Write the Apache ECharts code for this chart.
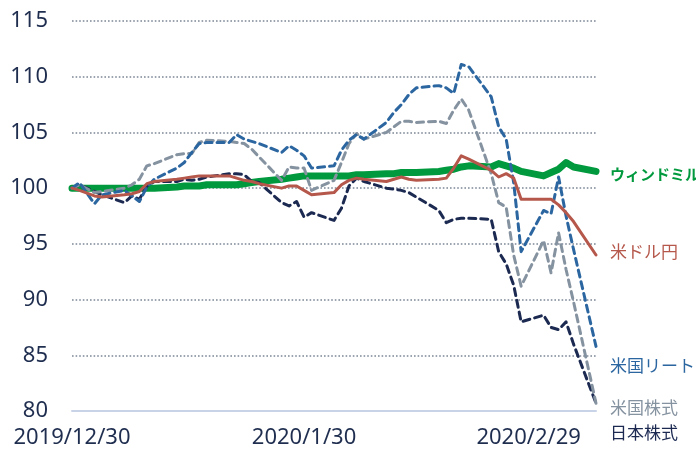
<!DOCTYPE html>
<html>
<head>
<meta charset="utf-8">
<script src="https://cdn.jsdelivr.net/npm/echarts@6/dist/echarts.min.js"></script>
<style>
  html, body { margin: 0; padding: 0; background: #fff; }
  #chart { width: 696px; height: 449px; }
</style>
</head>
<body>
<div id="chart"></div>
<script>
// business days 2019/12/30 - 2020/3/9
const dates = [
  '2019-12-30', '2019-12-31',
  '2020-01-02', '2020-01-03', '2020-01-06', '2020-01-07', '2020-01-08', '2020-01-09', '2020-01-10',
  '2020-01-13', '2020-01-14', '2020-01-15', '2020-01-16', '2020-01-17', '2020-01-20', '2020-01-21',
  '2020-01-22', '2020-01-23', '2020-01-24', '2020-01-27', '2020-01-28', '2020-01-29', '2020-01-30',
  '2020-01-31',
  '2020-02-03', '2020-02-04', '2020-02-05', '2020-02-06', '2020-02-07', '2020-02-10', '2020-02-11',
  '2020-02-12', '2020-02-13', '2020-02-14', '2020-02-17', '2020-02-18', '2020-02-19', '2020-02-20',
  '2020-02-21', '2020-02-24', '2020-02-25', '2020-02-26', '2020-02-27', '2020-02-28',
  '2020-03-02', '2020-03-03', '2020-03-04', '2020-03-05', '2020-03-06', '2020-03-09'
];

const windmill = [
  100, 100, 100, 100, 100, 100, 100, 100, 100, 100.1,
  100.2, 100.2, 100.2, 100.3, 100.3, 100.3, 100.4, 100.5, 100.6, 100.8,
  100.9, 101, 101.1, 101.1,
  101.1, 101.1, 101.1, 101.2, 101.2, 101.3, 101.3, 101.4, 101.4, 101.4,
  101.5, 101.6, 101.7, 101.9, 102, 101.9, 102.2, 102, 101.8, 101.5,
  101.1, 101.4, 101.7, 102.3, 101.9, 101.5
];
const usdJpy = [
  100, 99.8, 99.3, 99.2, 99.4, 99.5, 99.7, 100.4, 100.6, 100.8,
  100.9, 101, 101.1, 101.1, 101.1, 100.9, 100.7, 100.6, 100.4, 100,
  100.2, 100.2, 99.8, 99.4,
  99.6, 100.3, 100.7, 100.9, 100.8, 100.6, 100.8, 101, 100.8, 100.7,
  100.8, 100.9, 101.8, 102.9, 102.6, 101.6, 101, 101.3, 100.9, 99,
  99, 99, 98.5, 97.8, 97, 94
];
const usReit = [
  100, 100.5, 98.6, 99.4, 99.8, 99.3, 98.8, 100.1, 100.8, 101.8,
  102.3, 103.2, 104, 104.1, 104.1, 104.8, 104.4, 104.2, 104, 103.2,
  103.8, 103.4, 102.9, 101.8,
  102, 103.4, 104.3, 104.8, 104.4, 105.9, 106.8, 107.5, 108.4, 109,
  109.2, 109, 108.5, 111.1, 110.9, 108.2, 105.5, 104.4, 100.5, 94.3,
  98, 97.7, 101, 97.5, 94.5, 85.8
];
const usStock = [
  100, 100.3, 99.6, 99.7, 100, 100.3, 100.8, 102, 102.2, 103,
  103.1, 103.1, 104.1, 104.3, 104.2, 104.1, 104, 103.5, 102.8, 100.7,
  101.9, 101.8, 101.8, 99.8,
  100.7, 102.3, 104, 104.9, 104.4, 105, 105.5, 106, 106, 105.9,
  106, 105.8, 107, 108, 107, 101.3, 98.7, 98.3, 94, 91.2,
  95.3, 92.4, 96, 92.7, 89.8, 80.7
];
const jpStock = [
  100, 100.3, 99.7, 99.4, 98.7, 99.3, 99, 100.2, 100.6, 100.6,
  100.8, 100.7, 100.8, 101, 101.3, 101.3, 101.2, 100.6, 100.5, 98.7,
  98.4, 98.8, 97.4, 97.8,
  97.1, 98.2, 100.2, 100.9, 100.6, 100, 99.9, 99.8, 99.6, 99.2,
  98, 96.9, 97.2, 97.3, 97.3, 97.2, 94.3, 93.2, 91.3, 88,
  88.6, 87.5, 87.3, 88, 86, 80.7
];

const xTicks = ['2019-12-30', '2020-01-30', '2020-02-29'];
const xEnd = '2020-03-09';

const textColor = '#1f2d4f';
const fontFamily = '"Noto Sans", "Open Sans", "Noto Sans CJK JP", sans-serif';
const DAY = 86400000;

function toTime(s) {
  const p = s.split('-');
  return Date.UTC(+p[0], +p[1] - 1, +p[2]);
}
const t0 = toTime(dates[0]);
// days since first date
function toDay(s) {
  return Math.round((toTime(s) - t0) / DAY);
}

function pairs(values) {
  return values.map((v, i) => [toDay(dates[i]), v]);
}

function lineSeries(name, values, color, width, dashed, labelOffset, bold) {
  return {
    name: name,
    type: 'line',
    data: pairs(values),
    symbol: 'none',
    smooth: false,
    clip: false,
    lineStyle: {
      color: color,
      width: width,
      type: dashed ? [7, 5] : 'solid',
      cap: 'round',
      join: 'round'
    },
    endLabel: {
      show: true,
      formatter: name,
      color: color,
      fontSize: bold ? 15 : 17,
      fontWeight: bold ? 'bold' : 'normal',
      fontFamily: '"Noto Sans CJK JP", sans-serif',
      distance: 5,
      offset: labelOffset
    }
  };
}

const chart = echarts.init(document.getElementById('chart'), null, { renderer: 'canvas' });

const option = {
  animation: false,
  backgroundColor: '#ffffff',
  grid: { left: 72, right: 100, top: 21, bottom: 38, containLabel: false },
  xAxis: {
    type: 'value',
    min: 0,
    max: toDay(xEnd),
    axisLine: { show: true, lineStyle: { color: '#c9d3e8', width: 2 } },
    axisTick: { show: false },
    splitLine: { show: false },
    axisLabel: {
      customValues: xTicks.map(toDay),
      formatter: function (val) {
        const d = new Date(t0 + val * DAY);
        return d.getUTCFullYear() + '/' + (d.getUTCMonth() + 1) + '/' + d.getUTCDate();
      },
      color: textColor,
      fontSize: 22,
      fontFamily: fontFamily,
      margin: 16,
      hideOverlap: false
    }
  },
  yAxis: {
    type: 'value',
    min: 80,
    max: 115,
    interval: 5,
    axisLine: { show: false },
    axisTick: { show: false },
    axisLabel: {
      color: textColor,
      fontSize: 22,
      fontFamily: fontFamily,
      margin: 24
    },
    splitLine: {
      show: true,
      showMinLine: false,
      lineStyle: { color: '#7c8696', width: 1.6, type: [1.6, 2] }
    }
  },
  series: [
    lineSeries('ウィンドミル', windmill, '#00993d', 7, false, [9, 3], true),
    lineSeries('日本株式', jpStock, '#1c2a52', 3, true, [9, 29]),
    lineSeries('米国株式', usStock, '#8592a0', 3, true, [9, 4]),
    lineSeries('米国リート', usReit, '#2c66a0', 3, true, [9, 19]),
    lineSeries('米ドル円', usdJpy, '#b5584b', 3, false, [9, -3])
  ]
};

chart.setOption(option);
</script>
</body>
</html>
